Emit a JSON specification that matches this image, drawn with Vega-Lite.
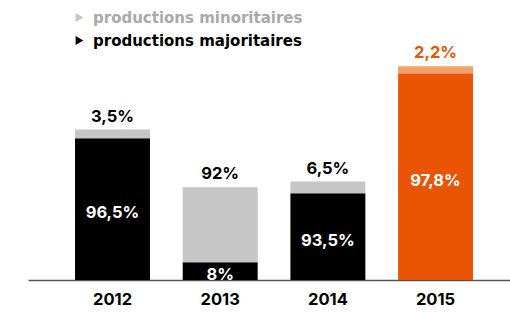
{
  "$schema": "https://vega.github.io/schema/vega-lite/v6.json",
  "width": 482,
  "height": 280,
  "autosize": "none",
  "padding": {"left": 28, "top": 0, "right": 0, "bottom": 32},
  "background": "white",
  "config": {
    "view": {"stroke": null},
    "font": "Inter",
    "text": {"font": "Inter", "fontWeight": "bold", "fontSize": 16.5}
  },
  "data": {
    "values": [
      {"year": "2012", "part": "productions majoritaires", "key": "productions majoritaires", "order": 0, "value": 141.8, "label": "96,5%"},
      {"year": "2012", "part": "productions minoritaires", "key": "productions minoritaires", "order": 1, "value": 8.7, "label": "3,5%"},
      {"year": "2013", "part": "productions majoritaires", "key": "productions majoritaires", "order": 0, "value": 17.8, "label": "8%"},
      {"year": "2013", "part": "productions minoritaires", "key": "productions minoritaires", "order": 1, "value": 75.0, "label": "92%"},
      {"year": "2014", "part": "productions majoritaires", "key": "productions majoritaires", "order": 0, "value": 86.8, "label": "93,5%"},
      {"year": "2014", "part": "productions minoritaires", "key": "productions minoritaires", "order": 1, "value": 11.7, "label": "6,5%"},
      {"year": "2015", "part": "productions majoritaires", "key": "2015 majoritaires", "order": 0, "value": 206.8, "label": "97,8%"},
      {"year": "2015", "part": "productions minoritaires", "key": "2015 minoritaires", "order": 1, "value": 7.0, "label": "2,2%"}
    ]
  },
  "encoding": {
    "x": {
      "field": "year",
      "type": "nominal",
      "sort": null,
      "scale": {"paddingInner": 0.304, "paddingOuter": 0.39, "align": 0.56},
      "axis": {
        "title": null,
        "ticks": false,
        "labelAngle": 0,
        "labelFont": "Inter",
        "labelFontWeight": "bold",
        "labelFontSize": 16.5,
        "labelColor": "#000000",
        "labelPadding": 11,
        "domainColor": "#555555",
        "domainWidth": 1.5,
        "grid": false
      }
    }
  },
  "layer": [
    {
      "mark": {"type": "bar"},
      "encoding": {
        "y": {
          "field": "value",
          "type": "quantitative",
          "stack": "zero",
          "scale": {"domain": [0, 280], "nice": false, "zero": true},
          "axis": null
        },
        "order": {"field": "order", "type": "quantitative"},
        "color": {
          "field": "key",
          "type": "nominal",
          "scale": {
            "domain": ["productions minoritaires", "productions majoritaires", "2015 minoritaires", "2015 majoritaires"],
            "range": ["#C5C6C5", "#000000", "#F4A06C", "#E95504"]
          },
          "legend": {
            "values": ["productions minoritaires", "productions majoritaires"],
            "title": null,
            "orient": "none",
            "legendX": 44,
            "legendY": 10,
            "padding": 0,
            "symbolType": "triangle-right",
            "symbolSize": 80,
            "symbolStrokeWidth": 0,
            "labelFont": "DejaVu Sans",
            "labelFontWeight": "bold",
            "labelFontSize": 15,
            "labelOffset": 6,
            "labelLimit": 400,
            "rowPadding": 7,
            "encode": {
              "labels": {"update": {"fill": {"signal": "datum.value === 'productions minoritaires' ? '#A9A9A9' : '#000000'"}}},
              "symbols": {"update": {"fill": {"signal": "datum.value === 'productions minoritaires' ? '#A9A9A9' : '#000000'"}, "stroke": {"value": "transparent"}}}
            }
          }
        }
      }
    },
    {
      "transform": [
        {"filter": "datum.part === 'productions majoritaires'"},
        {"calculate": "datum.value / 2", "as": "mid"}
      ],
      "mark": {"type": "text", "baseline": "middle", "dy": 4, "color": "#FFFFFF"},
      "encoding": {
        "y": {"field": "mid", "type": "quantitative"},
        "text": {"field": "label"}
      }
    },
    {
      "transform": [
        {"joinaggregate": [{"op": "sum", "field": "value", "as": "total"}], "groupby": ["year"]},
        {"filter": "datum.part === 'productions minoritaires'"}
      ],
      "mark": {"type": "text", "baseline": "middle", "dy": -13},
      "encoding": {
        "y": {"field": "total", "type": "quantitative"},
        "text": {"field": "label"},
        "color": {
          "condition": {"test": "datum.year === '2015'", "value": "#E95504"},
          "value": "#000000"
        }
      }
    }
  ]
}
